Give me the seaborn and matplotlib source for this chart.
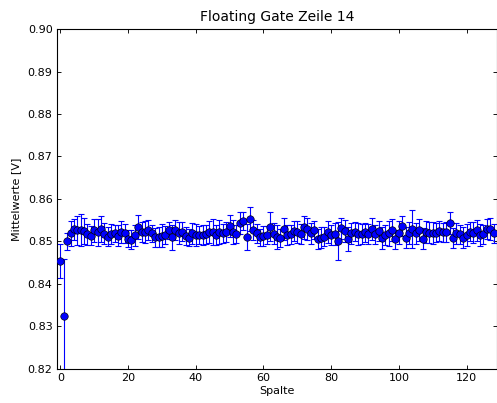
import numpy as np
import pandas as pd
import matplotlib
matplotlib.use("Agg")
import matplotlib.pyplot as plt
from matplotlib.ticker import FormatStrFormatter, MultipleLocator
import seaborn as sns

# Mean values per column (Spalte) of row 14, with their standard errors
spalte = list(range(129))
mittelwerte = [
    0.8454, 0.8325, 0.8501, 0.8519, 0.8529, 0.8526, 0.8527, 0.8525, 0.8517, 0.8514,
    0.8526, 0.8522, 0.8529, 0.8518, 0.8511, 0.8517, 0.8519, 0.8514, 0.8523, 0.8519,
    0.8506, 0.8504, 0.8515, 0.8535, 0.8522, 0.8523, 0.8527, 0.8519, 0.8510, 0.8511,
    0.8514, 0.8515, 0.8527, 0.8510, 0.8527, 0.8519, 0.8523, 0.8513, 0.8509, 0.8519,
    0.8515, 0.8515, 0.8515, 0.8517, 0.8522, 0.8522, 0.8515, 0.8522, 0.8519, 0.8522,
    0.8537, 0.8522, 0.8518, 0.8543, 0.8548, 0.8511, 0.8553, 0.8527, 0.8519, 0.8510,
    0.8513, 0.8515, 0.8535, 0.8518, 0.8511, 0.8508, 0.8529, 0.8515, 0.8517, 0.8525,
    0.8522, 0.8517, 0.8533, 0.8529, 0.8519, 0.8527, 0.8506, 0.8509, 0.8511, 0.8522,
    0.8515, 0.8517, 0.8502, 0.8531, 0.8525, 0.8505, 0.8519, 0.8523, 0.8517, 0.8518,
    0.8522, 0.8517, 0.8529, 0.8517, 0.8525, 0.8508, 0.8515, 0.8519, 0.8527, 0.8505,
    0.8521, 0.8537, 0.8509, 0.8519, 0.8529, 0.8519, 0.8527, 0.8507, 0.8523, 0.8521,
    0.8521, 0.8521, 0.8525, 0.8522, 0.8522, 0.8544, 0.8508, 0.8519, 0.8517, 0.8509,
    0.8516, 0.8523, 0.8521, 0.8526, 0.8515, 0.8517, 0.8529, 0.8530, 0.8519,
]
fehler = [
    0.0040, 0.0135, 0.0020, 0.0030, 0.0025, 0.0035, 0.0038, 0.0030, 0.0025, 0.0022,
    0.0028, 0.0032, 0.0030, 0.0025, 0.0022, 0.0024, 0.0020, 0.0025, 0.0026, 0.0022,
    0.0020, 0.0022, 0.0025, 0.0028, 0.0024, 0.0026, 0.0024, 0.0020, 0.0022, 0.0024,
    0.0026, 0.0022, 0.0020, 0.0030, 0.0024, 0.0026, 0.0022, 0.0022, 0.0020, 0.0024,
    0.0026, 0.0022, 0.0024, 0.0022, 0.0026, 0.0030, 0.0024, 0.0028, 0.0022, 0.0024,
    0.0026, 0.0028, 0.0022, 0.0026, 0.0022, 0.0030, 0.0028, 0.0024, 0.0022, 0.0020,
    0.0024, 0.0022, 0.0035, 0.0025, 0.0028, 0.0022, 0.0026, 0.0024, 0.0022, 0.0024,
    0.0026, 0.0024, 0.0028, 0.0026, 0.0024, 0.0022, 0.0024, 0.0024, 0.0022, 0.0026,
    0.0024, 0.0026, 0.0045, 0.0024, 0.0026, 0.0028, 0.0024, 0.0022, 0.0026, 0.0024,
    0.0022, 0.0024, 0.0026, 0.0022, 0.0024, 0.0026, 0.0024, 0.0030, 0.0026, 0.0022,
    0.0028, 0.0024, 0.0024, 0.0026, 0.0045, 0.0024, 0.0026, 0.0024, 0.0026, 0.0024,
    0.0026, 0.0022, 0.0024, 0.0022, 0.0024, 0.0026, 0.0024, 0.0024, 0.0022, 0.0024,
    0.0026, 0.0022, 0.0024, 0.0024, 0.0026, 0.0022, 0.0024, 0.0026, 0.0022,
]

df = pd.DataFrame({"Spalte": spalte, "Mittelwerte": mittelwerte, "Fehler": fehler})

sns.set_style("ticks", {"xtick.direction": "in", "ytick.direction": "in",
                        "text.color": "black", "axes.labelcolor": "black",
                        "xtick.color": "black", "ytick.color": "black",
                        "axes.edgecolor": "black"})
plt.rcParams["font.family"] = ["DejaVu Sans"]

fig = plt.figure(figsize=(497 / 80, 403 / 80), dpi=80)
ax = fig.add_axes([57 / 497, 1 - 369 / 403, 440 / 497, 340 / 403])

ax.errorbar(df["Spalte"], df["Mittelwerte"], yerr=df["Fehler"], fmt="none",
            ecolor="#0000ff", elinewidth=1.0, capsize=3, capthick=1.0, zorder=2)
sns.scatterplot(data=df, x="Spalte", y="Mittelwerte", ax=ax, color="#0000ff",
                edgecolor="black", linewidth=0.6, s=45, zorder=3, legend=False)

ax.set_xlim(-1, 129)
ax.set_ylim(0.82, 0.90)
ax.xaxis.set_major_locator(MultipleLocator(20))
ax.yaxis.set_major_locator(MultipleLocator(0.01))
ax.yaxis.set_major_formatter(FormatStrFormatter("%.2f"))
ax.tick_params(axis="both", which="major", direction="in", length=4, width=0.8,
               top=True, right=True, labelsize=10, colors="black", pad=4)
for side in ["top", "bottom", "left", "right"]:
    ax.spines[side].set_visible(True)
    ax.spines[side].set_color("black")
    ax.spines[side].set_linewidth(1.0)

ax.set_title("Floating Gate Zeile 14", fontsize=12.5, pad=7, color="black")
ax.set_xlabel("Spalte", fontsize=10, labelpad=2, color="black")
ax.set_ylabel("Mittelwerte [V]", fontsize=10, labelpad=6, color="black")

fig.savefig("out.png", dpi=80)
